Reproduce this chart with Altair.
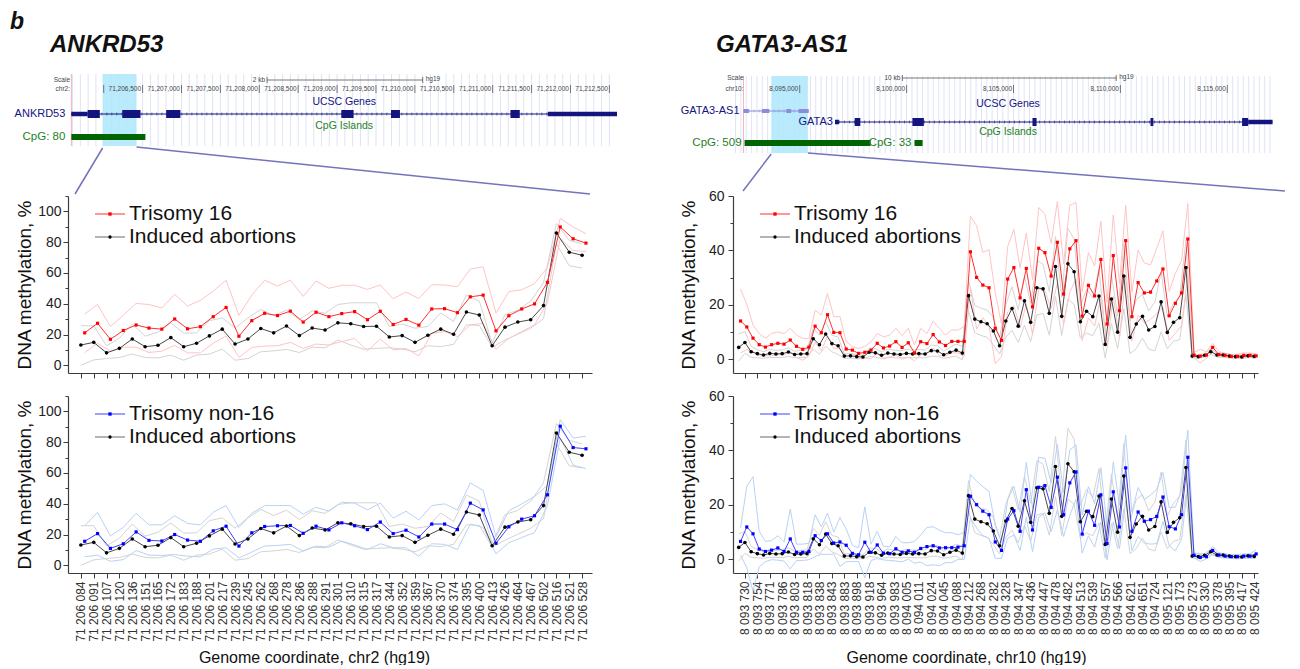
import json
import math
import altair as alt
import pandas as pd

# ---------------- ANKRD53 (chr2) CpG sites ----------------
ank_labels = ["71 206 084", "71 206 091", "71 206 107", "71 206 120", "71 206 136",
              "71 206 151", "71 206 165", "71 206 172", "71 206 183", "71 206 188",
              "71 206 201", "71 206 217", "71 206 239", "71 206 245", "71 206 262",
              "71 206 268", "71 206 278", "71 206 286", "71 206 288", "71 206 291",
              "71 206 301", "71 206 310", "71 206 315", "71 206 317", "71 206 344",
              "71 206 352", "71 206 359", "71 206 367", "71 206 370", "71 206 374",
              "71 206 395", "71 206 400", "71 206 413", "71 206 426", "71 206 464",
              "71 206 467", "71 206 502", "71 206 516", "71 206 521", "71 206 528"]
ank_ia_mean = [13.2, 14.9, 8.1, 11.0, 17.1, 12.1, 13.0, 18.0, 12.1, 14.3,
               19.1, 23.5, 13.8, 17.1, 23.9, 21.1, 25.5, 19.3, 24.2, 22.9,
               27.6, 27.0, 25.2, 25.4, 18.4, 19.3, 14.9, 19.5, 23.5, 20.2,
               34.6, 32.7, 12.7, 24.8, 28.1, 29.6, 38.8, 86.0, 73.5, 71.5]
ank_ia_up = [25.7, 25.7, 12.7, 17.6, 26.8, 18.9, 21.5, 27.5, 20.9, 21.1,
             29.0, 30.8, 24.2, 30.8, 36.3, 32.3, 35.8, 29.7, 35.4, 33.8,
             39.5, 40.6, 40.6, 40.6, 25.2, 26.8, 24.1, 25.2, 34.0, 28.5,
             45.6, 41.7, 14.3, 32.9, 35.7, 41.7, 53.7, 92.1, 81.1, 78.9]
ank_ia_lo = [0.0, 3.5, 4.4, 5.1, 7.3, 5.1, 4.8, 6.6, 3.3, 6.6,
             7.3, 10.5, 3.3, 4.4, 8.8, 9.4, 10.3, 8.3, 11.8, 11.4,
             16.4, 13.2, 10.5, 11.0, 11.4, 10.5, 8.8, 12.7, 12.1, 13.6,
             26.3, 25.9, 11.8, 16.4, 20.2, 24.1, 30.3, 78.9, 64.7, 63.2]
ank_t16_mean = [21.1, 27.3, 16.9, 22.6, 26.2, 24.2, 23.5, 30.1, 23.7, 25.1,
                31.6, 37.6, 18.9, 29.0, 33.8, 32.3, 35.2, 28.1, 34.5, 31.6,
                33.6, 34.9, 29.6, 35.1, 26.5, 29.8, 26.1, 36.6, 36.8, 34.2,
                44.5, 45.6, 22.4, 32.2, 36.6, 39.9, 53.9, 89.9, 82.2, 79.4]
ank_t16_up = [33.3, 39.5, 25.2, 32.5, 40.2, 39.5, 37.3, 46.1, 38.5, 42.2,
              48.2, 55.3, 32.5, 45.6, 55.3, 51.5, 55.3, 44.8, 54.8, 50.0,
              52.0, 52.0, 49.3, 52.2, 43.2, 47.6, 43.4, 52.4, 52.2, 51.1,
              62.5, 64.0, 34.0, 47.8, 49.1, 53.1, 63.6, 95.4, 89.9, 85.5]
ank_t16_lo = [8.3, 14.3, 9.2, 11.8, 11.8, 8.3, 9.2, 13.0, 8.1, 8.1,
              14.3, 19.1, 5.1, 11.6, 12.5, 12.7, 14.9, 11.0, 13.8, 13.2,
              15.4, 17.5, 9.4, 17.1, 9.9, 11.0, 6.1, 20.8, 21.9, 18.6,
              26.3, 27.2, 10.5, 17.5, 21.9, 26.3, 40.6, 82.2, 74.6, 73.9]
ank_tn16_mean = [15.6, 20.6, 11.0, 14.0, 21.7, 16.2, 15.8, 20.0, 16.4, 15.6,
                 22.4, 25.4, 12.5, 21.1, 25.2, 25.7, 25.9, 20.8, 25.4, 23.0,
                 27.6, 25.7, 23.2, 28.1, 20.6, 22.8, 18.4, 26.8, 26.8, 23.2,
                 40.4, 36.0, 14.3, 25.0, 30.0, 32.2, 45.8, 90.4, 76.5, 75.7]
ank_tn16_up = [25.7, 34.4, 19.1, 24.6, 33.8, 26.3, 26.3, 32.2, 27.2, 26.3,
               34.4, 38.8, 24.6, 33.8, 38.8, 38.8, 38.8, 33.3, 37.7, 35.1,
               41.0, 40.4, 36.0, 40.4, 30.7, 35.1, 29.4, 38.8, 39.9, 36.0,
               53.5, 48.7, 18.5, 35.5, 39.9, 44.7, 52.0, 94.7, 82.7, 83.8]
ank_tn16_lo = [5.5, 6.6, 2.6, 3.7, 9.6, 6.6, 6.4, 7.0, 5.9, 5.5,
               10.5, 11.4, 4.8, 8.6, 12.5, 12.9, 13.6, 9.2, 12.5, 11.8,
               15.8, 13.2, 10.3, 14.0, 11.4, 11.4, 5.9, 14.0, 13.6, 10.3,
               26.8, 24.6, 7.5, 14.7, 18.0, 21.3, 38.8, 82.7, 65.1, 62.9]

# ---------------- GATA3-AS1 (chr10) CpG sites (labels on every other site) ----------------
gata_labels = ["8 093 730", "8 093 754", "8 093 771", "8 093 786", "8 093 803", "8 093 818",
               "8 093 838", "8 093 843", "8 093 883", "8 093 898", "8 093 918", "8 093 964",
               "8 093 983", "8 094 005", "8 094 011", "8 094 024", "8 094 045", "8 094 088",
               "8 094 212", "8 094 268", "8 094 282", "8 094 328", "8 094 347", "8 094 436",
               "8 094 447", "8 094 478", "8 094 482", "8 094 513", "8 094 539", "8 094 557",
               "8 094 566", "8 094 621", "8 094 651", "8 094 724", "8 095 121", "8 095 173",
               "8 095 273", "8 095 330", "8 095 378", "8 095 395", "8 095 417", "8 095 424"]
gata_ia_mean = [4.4, 6.2, 2.8, 2.1, 1.6, 2.2, 2.0, 2.1, 2.7, 1.8,
                2.0, 2.1, 7.6, 5.4, 9.3, 5.8, 5.0, 1.2, 1.3, 1.0,
                0.9, 2.6, 2.4, 1.5, 2.3, 2.0, 1.8, 2.2, 2.0, 2.1,
                2.0, 3.2, 3.1, 1.7, 2.6, 3.4, 2.3, 23.4, 14.8, 13.8,
                13.1, 10.4, 5.0, 14.1, 18.7, 12.2, 21.5, 13.6, 26.3, 25.9,
                16.9, 34.1, 15.8, 35.1, 32.2, 13.8, 17.7, 15.7, 23.3, 5.5,
                22.2, 10.0, 30.6, 8.1, 13.0, 15.8, 10.8, 12.1, 21.1, 9.9,
                13.6, 15.3, 33.7, 1.2, 1.0, 1.5, 2.8, 1.6, 1.6, 1.2,
                1.0, 0.9, 1.3, 1.1]
gata_ia_sd = [5.0, 4.0, 2.0, 1.5, 1.2, 1.5, 1.3, 1.4, 1.6, 1.2,
              1.3, 1.4, 3.8, 3.5, 4.5, 3.0, 3.2, 0.8, 0.9, 0.8,
              0.7, 1.5, 1.6, 1.2, 1.5, 1.4, 1.3, 1.5, 1.4, 1.5,
              1.4, 2.0, 2.0, 1.3, 1.8, 2.2, 2.5, 5.5, 5.0, 5.0,
              5.0, 5.0, 3.0, 6.0, 8.0, 6.0, 9.0, 7.0, 10.0, 9.0,
              8.0, 11.0, 7.0, 13.0, 12.0, 6.0, 8.0, 7.0, 10.0, 5.0,
              9.0, 6.0, 12.0, 6.0, 9.0, 8.0, 7.0, 9.0, 11.0, 6.0,
              7.0, 8.0, 10.0, 0.7, 0.6, 0.7, 1.0, 0.7, 0.6, 0.6,
              0.6, 0.6, 0.6, 0.6]
gata_t16_mean = [14.1, 11.9, 7.8, 5.4, 4.5, 5.4, 5.9, 5.6, 7.1, 4.8,
                 3.7, 4.5, 12.2, 9.8, 16.4, 9.9, 9.8, 3.8, 3.4, 2.2,
                 2.6, 3.4, 5.9, 4.2, 4.9, 6.5, 4.4, 6.1, 2.4, 6.5,
                 5.8, 9.1, 6.4, 5.1, 6.6, 6.6, 6.6, 39.5, 30.1, 27.3,
                 26.3, 11.4, 7.0, 29.5, 33.7, 22.6, 33.4, 19.3, 40.8, 39.2,
                 30.6, 43.0, 24.0, 40.6, 43.6, 15.9, 27.2, 23.3, 36.7, 13.0,
                 38.1, 17.9, 43.6, 15.7, 28.2, 24.4, 24.7, 28.8, 33.2, 16.0,
                 20.6, 24.4, 44.2, 1.6, 1.2, 1.6, 4.4, 1.8, 1.5, 1.1,
                 1.1, 1.5, 1.5, 1.3]
gata_t16_sd = [11.7, 8.3, 4.8, 4.1, 3.2, 4.1, 4.2, 3.9, 4.3, 4.1,
               4.0, 3.2, 5.9, 6.5, 7.8, 5.8, 5.9, 2.7, 1.3, 1.8,
               2.1, 3.1, 3.6, 4.1, 4.0, 4.9, 4.3, 5.3, 2.9, 4.9,
               3.7, 4.9, 5.0, 3.8, 4.2, 4.2, 5.5, 13.1, 19.0, 12.0,
               14.0, 13.0, 6.0, 12.0, 14.0, 11.0, 13.0, 10.0, 15.0, 14.0,
               12.0, 15.0, 11.0, 16.0, 14.0, 9.0, 12.0, 11.0, 14.0, 8.0,
               15.0, 10.0, 13.0, 9.0, 12.0, 11.0, 10.0, 12.0, 14.0, 9.0,
               11.0, 12.0, 13.0, 1.0, 2.5, 1.2, 1.5, 1.0, 0.8, 0.7,
               0.8, 0.9, 0.8, 0.8]
gata_tn16_mean = [6.6, 11.9, 9.4, 3.8, 2.9, 3.4, 4.2, 2.9, 7.5, 2.6,
                  2.6, 2.9, 8.7, 6.9, 9.4, 6.0, 6.4, 5.2, 2.2, 1.7,
                  6.3, 2.6, 5.3, 2.3, 2.1, 3.9, 2.6, 3.1, 2.6, 4.0,
                  4.7, 5.0, 4.2, 4.3, 4.3, 4.5, 5.0, 23.2, 20.1, 17.7,
                  16.4, 6.4, 3.3, 14.8, 17.9, 10.3, 25.6, 10.8, 26.5, 27.1,
                  19.1, 30.2, 16.4, 28.1, 32.1, 9.3, 17.7, 12.5, 23.7, 5.8,
                  24.8, 11.9, 33.6, 10.3, 17.4, 14.0, 14.6, 15.8, 22.9, 12.0,
                  11.2, 16.4, 37.5, 1.5, 0.7, 1.0, 3.3, 1.6, 1.2, 1.0,
                  1.0, 1.2, 1.2, 2.0]
gata_tn16_sd = [5.0, 15.0, 21.0, 6.5, 3.7, 3.5, 4.5, 3.5, 11.0, 3.0,
                3.0, 3.0, 7.7, 5.0, 7.6, 4.0, 9.0, 6.0, 3.0, 2.5,
                13.0, 3.0, 5.0, 2.5, 2.5, 4.5, 3.5, 3.0, 4.0, 5.0,
                7.0, 7.0, 6.5, 5.5, 5.5, 4.5, 5.0, 8.0, 8.6, 9.0,
                8.6, 6.0, 3.0, 7.0, 9.0, 7.0, 10.0, 8.0, 11.0, 10.0,
                9.0, 12.0, 8.0, 12.0, 10.0, 7.0, 9.0, 8.0, 10.0, 6.0,
                11.0, 8.0, 12.0, 7.0, 9.0, 8.0, 9.0, 10.0, 9.0, 7.0,
                8.0, 9.0, 10.0, 0.8, 1.5, 0.8, 1.5, 0.8, 0.7, 0.7,
                0.8, 0.8, 0.8, 1.5]

# ---------------- UCSC browser tracks ----------------
ank_view = [71205541, 71212598]
ank_track = [71205584, 71212598]
ank_highlight = [71205986, 71206422]
ank_pos_ticks = [71206000, 71206500, 71207000, 71207500, 71208000, 71208500, 71209000,
                 71209500, 71210000, 71210500, 71211000, 71211500, 71212000, 71212500]
ank_pos_labeled = ank_pos_ticks[1:]
ank_scalebar = [71208100, 71210100]
ank_cds_start = [71205793, 71206238, 71206803, 71209054, 71209693, 71211228]
ank_cds_end = [71205950, 71206473, 71206986, 71209212, 71209808, 71211348]
ank_utr_start = [71205584, 71211709]
ank_utr_end = [71205793, 71212598]
ank_cpg_start = [71205584]
ank_cpg_end = [71206536]
ank_cpg_names = ["CpG: 80"]
ank_zoom_to = [71205631, 71212251]

gata_view = [8091880, 8117138]
gata_track = [8092374, 8117117]
gata_highlight = [8093668, 8095383]
gata_pos_ticks = [8095000, 8100000, 8105000, 8110000, 8115000]
gata_scalebar = [8099804, 8109804]
gas1_span = [8092374, 8095421]
gas1_exon_start = [8092374, 8093229, 8094374, 8094944]
gas1_exon_end = [8092621, 8093575, 8094603, 8095421]
gata3_span = [8096836, 8117117]
gata3_cds_start = [8097570, 8100271, 8105888, 8111407, 8115692]
gata3_cds_end = [8097836, 8100808, 8106079, 8111542, 8115977]
gata3_utr_start = [8096650, 8115977]
gata3_utr_end = [8096836, 8117117]
gata_cpg_start = [8092421, 8100369]
gata_cpg_end = [8098313, 8100748]
gata_cpg_names = ["CpG: 509", "CpG: 33"]
gata_zoom_to = [8092348, 8117698]

# ---------------- styles ----------------
AX = "#3c3c3c"
GRID = "#dfe4f6"
HL = "#aee8fb"
PINK = "#f3b3bb"
CONN = "#7373bb"
NAVY = "#14147f"
LPURP = "#8c8cd8"
GREEN = "#006400"
GREEN_T = "#1f7f1f"
FONT = "Liberation Sans"

one = pd.DataFrame({"k": [0]})


def vtext(s, x, y, size, color, align="left", baseline="middle", weight="normal", style="normal"):
    return alt.Chart(one).mark_text(text=s, align=align, baseline=baseline, fontSize=size,
                                    color=color, fontWeight=weight, fontStyle=style).encode(
        x=alt.value(x), y=alt.value(y))


def browser(view, width, height, grid_step, track, hl, top, bot, scale_x, chrom,
            bar, bar_txt, bar_y, tick_y, pos_ticks, pos_labeled, genes, cpg, cpg_y, cpg_dx,
            zoom_to, zoom_y0, zoom_y1, title, title_x, extra):
    xs = alt.Scale(domain=view, nice=False, zero=False)
    g0 = int(math.ceil(view[0] / grid_step) * grid_step)
    gv = list(range(g0, view[1], grid_step))

    def X(f):
        return alt.X(f, scale=xs, axis=None, title=None)

    L = []
    L.append(alt.Chart(pd.DataFrame({"p": gv})).mark_rule(color=GRID, strokeWidth=1).encode(
        x=X("p:Q"), y=alt.value(top), y2=alt.value(bot)))
    L.append(alt.Chart(pd.DataFrame({"s": [hl[0]], "e": [hl[1]]})).mark_rect(
        color=HL, opacity=0.85).encode(x=X("s:Q"), x2=alt.X2("e"),
                                        y=alt.value(top), y2=alt.value(bot)))
    L.append(alt.Chart(pd.DataFrame({"p": [track[0]]})).mark_rule(color=PINK, strokeWidth=1).encode(
        x=X("p:Q"), y=alt.value(top), y2=alt.value(bot)))
    L.append(vtext("Scale", scale_x, bar_y, 6.5, "#444", align="right"))
    L.append(vtext(chrom, scale_x, tick_y, 6.5, "#444", align="right"))
    # scale bar
    bdf = pd.DataFrame({"s": [bar[0]], "e": [bar[1]]})
    L.append(alt.Chart(bdf).mark_rule(color="#555", strokeWidth=0.8).encode(
        x=X("s:Q"), x2=alt.X2("e"), y=alt.value(bar_y)))
    L.append(alt.Chart(pd.DataFrame({"p": bar})).mark_rule(color="#555", strokeWidth=0.8).encode(
        x=X("p:Q"), y=alt.value(bar_y - 3), y2=alt.value(bar_y + 3)))
    L.append(alt.Chart(bdf).mark_text(text=bar_txt, align="right", baseline="middle", fontSize=6.5,
                                      dx=-2, color="#444").encode(x=X("s:Q"), y=alt.value(bar_y)))
    L.append(alt.Chart(bdf).mark_text(text="hg19", align="left", baseline="middle", fontSize=6.5,
                                      dx=3, dy=-1, color="#444").encode(x=X("e:Q"), y=alt.value(bar_y)))
    # base position ticks
    L.append(alt.Chart(pd.DataFrame({"p": pos_ticks})).mark_rule(color="#555", strokeWidth=0.8).encode(
        x=X("p:Q"), y=alt.value(tick_y - 4), y2=alt.value(tick_y + 4)))
    L.append(alt.Chart(pd.DataFrame({"p": pos_labeled})).mark_text(
        align="right", baseline="middle", fontSize=6.5, dx=-1.5, color="#444").encode(
        x=X("p:Q"), y=alt.value(tick_y), text=alt.Text("p:Q", format=",d")))
    mid = (track[0] + track[1]) / 2
    # gene tracks
    for gdef in genes:
        if gdef.get("title_y") is not None:
            L.append(alt.Chart(pd.DataFrame({"p": [mid]})).mark_text(
                text="UCSC Genes", align="center", baseline="middle", fontSize=10.5, color=NAVY).encode(
                x=X("p:Q"), y=alt.value(gdef["title_y"])))
        y = gdef["y"]
        sdf = pd.DataFrame({"s": [gdef["span"][0]], "e": [gdef["span"][1]]})
        L.append(alt.Chart(sdf).mark_rule(color=gdef["color"], strokeWidth=1).encode(
            x=X("s:Q"), x2=alt.X2("e"), y=alt.value(y)))
        L.append(alt.Chart(sdf).mark_rule(color=gdef["color"], strokeWidth=3, strokeDash=[1, 4],
                                          opacity=0.55).encode(
            x=X("s:Q"), x2=alt.X2("e"), y=alt.value(y)))
        if gdef.get("utr"):
            udf = pd.DataFrame({"s": gdef["utr"][0], "e": gdef["utr"][1]})
            L.append(alt.Chart(udf).mark_rect(color=gdef["color"]).encode(
                x=X("s:Q"), x2=alt.X2("e"), y=alt.value(y - gdef["utr_h"] / 2),
                y2=alt.value(y + gdef["utr_h"] / 2)))
        cdf = pd.DataFrame({"s": gdef["cds"][0], "e": gdef["cds"][1]})
        L.append(alt.Chart(cdf).mark_rect(color=gdef["color"]).encode(
            x=X("s:Q"), x2=alt.X2("e"), y=alt.value(y - gdef["cds_h"] / 2),
            y2=alt.value(y + gdef["cds_h"] / 2)))
        L.append(alt.Chart(pd.DataFrame({"p": [gdef["label_at"]]})).mark_text(
            text=gdef["name"], align="right", baseline="middle", fontSize=11, dx=gdef["dx"],
            color=NAVY).encode(x=X("p:Q"), y=alt.value(y)))
    # CpG islands
    L.append(alt.Chart(pd.DataFrame({"p": [mid]})).mark_text(
        text="CpG Islands", align="center", baseline="middle", fontSize=10.5, color=GREEN_T).encode(
        x=X("p:Q"), y=alt.value(cpg_y - 11)))
    cpdf = pd.DataFrame({"s": cpg[0], "e": cpg[1], "n": cpg[2]})
    L.append(alt.Chart(cpdf).mark_rect(color=GREEN).encode(
        x=X("s:Q"), x2=alt.X2("e"), y=alt.value(cpg_y - 3), y2=alt.value(cpg_y + 3)))
    L.append(alt.Chart(cpdf).mark_text(align="right", baseline="middle", fontSize=11.5, dx=cpg_dx,
                                       color=GREEN_T).encode(
        x=X("s:Q"), y=alt.value(cpg_y), text="n:N"))
    # zoom connectors
    for a, b, y0 in [(hl[0], zoom_to[0], zoom_y0), (hl[1], zoom_to[1], zoom_y0 - 1)]:
        L.append(alt.Chart(pd.DataFrame({"a": [a], "b": [b]})).mark_rule(
            color=CONN, strokeWidth=1.5).encode(x=X("a:Q"), x2=alt.X2("b"),
                                                 y=alt.value(y0), y2=alt.value(zoom_y1)))
    # titles
    L.append(vtext(title, title_x, -21, 24, "#111", baseline="alphabetic", weight="bold", style="italic"))
    for t in extra:
        L.append(t)
    return alt.layer(*L).properties(width=width, height=height)


def panel(n, tick_vals, label_expr, xdom, ydom, yvals, w, h,
          ia_mean, ia_up, ia_lo, g_mean, g_up, g_lo,
          g_col, g_line, g_band, g_name, show_labels, xtitle, xtitle_x,
          ytitle_pad, ylabel_pad, shift):
    idx = list(range(n))
    gx = [i + shift for i in idx]
    xs = alt.Scale(domain=xdom, nice=False, zero=False)
    ys = alt.Scale(domain=ydom, nice=False, zero=False)
    xa = dict(values=tick_vals, tickSize=5, tickColor=AX, tickWidth=1, domainColor=AX,
              domainWidth=1.2, grid=False, labelFlush=False, labelOverlap=False)
    if show_labels:
        xa.update(labels=True, labelExpr=label_expr, labelAngle=270, labelAlign="right",
                  labelBaseline="middle", labelFontSize=12, labelColor="#333", labelPadding=3,
                  titleFontSize=16, titleFontWeight="normal", titleColor="#111",
                  titleY=76, titleX=xtitle_x, titleAlign="center", titleBaseline="top")
    else:
        xa.update(labels=False)
    xaxis = alt.Axis(**xa)
    yaxis = alt.Axis(values=yvals, labelExpr="datum.value % 20 === 0 ? datum.label : ''",
                     tickSize={"condition": {"test": "datum.value % 20 === 0", "value": 5}, "value": 3},
                     tickColor=AX, tickWidth=1, domainColor=AX, domainWidth=1.2, grid=False,
                     labelFontSize=14, labelColor="#222", labelPadding=ylabel_pad, labelFlush=False,
                     titleFontSize=19, titleFontWeight="normal", titleColor="#111",
                     titlePadding=ytitle_pad)

    def X():
        return alt.X("x:Q", scale=xs, axis=xaxis, title=xtitle if show_labels else None)

    def Y():
        return alt.Y("v:Q", scale=ys, axis=yaxis, title="DNA methylation, %")

    def line(xv, vals, color, width=1):
        return alt.Chart(pd.DataFrame({"x": xv, "v": vals})).mark_line(
            color=color, strokeWidth=width).encode(x=X(), y=Y())

    layers = [line(idx, ia_up, "#d4d4d4"), line(idx, ia_lo, "#d4d4d4"),
              line(gx, g_up, g_band), line(gx, g_lo, g_band),
              line(idx, ia_mean, "#4a4a4a"), line(gx, g_mean, g_line)]
    layers.append(alt.Chart(pd.DataFrame({"x": idx, "v": ia_mean})).mark_circle(
        size=13, color="#000000", opacity=1).encode(x=X(), y=Y()))
    layers.append(alt.Chart(pd.DataFrame({"x": gx, "v": g_mean})).mark_square(
        size=10, color=g_col, opacity=1).encode(x=X(), y=Y()))

    for name, lc, mc, shape, yy in [(g_name, g_line, g_col, "square", 18),
                                    ("Induced abortions", "#6a6a6a", "#000000", "circle", 41)]:
        layers.append(alt.Chart(one).mark_rule(color=lc, strokeWidth=1).encode(
            x=alt.value(27), x2=alt.value(57), y=alt.value(yy)))
        layers.append(alt.Chart(one).mark_point(shape=shape, filled=True, size=11, color=mc,
                                                opacity=1).encode(x=alt.value(42), y=alt.value(yy)))
        layers.append(alt.Chart(one).mark_text(text=name, align="left", baseline="middle", fontSize=21,
                                               color="#111").encode(x=alt.value(61), y=alt.value(yy)))
    return alt.layer(*layers).properties(width=w, height=h)


# ---------------- build panels ----------------
ank_expr = "%s[datum.value]" % json.dumps(ank_labels)
gata_expr = "%s[(datum.value - 1) / 2]" % json.dumps(gata_labels)
ank_ticks = list(range(len(ank_labels)))
gata_n = len(gata_ia_mean)
gata_ticks = list(range(1, gata_n, 2))


def plus(a, b):
    return [x + y for x, y in zip(a, b)]


def minus(a, b):
    return [x - y for x, y in zip(a, b)]


PH = 177
BLUE_BAND = "#b8d2f6"
RED_BAND = "#ffc4c4"
ank_top = panel(40, ank_ticks, ank_expr, [-1.0, 39.77], [-5, 110], list(range(0, 111, 10)), 524, PH,
                ank_ia_mean, ank_ia_up, ank_ia_lo, ank_t16_mean, ank_t16_up, ank_t16_lo,
                "#ff0000", "#ff3030", RED_BAND, "Trisomy 16", False, None, 0, 3, 2, 0.3)
ank_bot = panel(40, ank_ticks, ank_expr, [-1.0, 39.77], [-5, 110], list(range(0, 111, 10)), 524, PH,
                ank_ia_mean, ank_ia_up, ank_ia_lo, ank_tn16_mean, ank_tn16_up, ank_tn16_lo,
                "#0000ff", "#4040ff", BLUE_BAND, "Trisomy non-16", True,
                "Genome coordinate, chr2 (hg19)", 246, 3, 2, 0.3)
gata_top = panel(gata_n, gata_ticks, gata_expr, [-0.92, 83.6], [-5, 60], list(range(0, 61, 10)), 525, PH,
                 gata_ia_mean, plus(gata_ia_mean, gata_ia_sd), minus(gata_ia_mean, gata_ia_sd),
                 gata_t16_mean, plus(gata_t16_mean, gata_t16_sd), minus(gata_t16_mean, gata_t16_sd),
                 "#ff0000", "#ff3030", RED_BAND, "Trisomy 16", False, None, 0, 10, 4, 0.3)
gata_bot = panel(gata_n, gata_ticks, gata_expr, [-0.92, 83.6], [-5, 60], list(range(0, 61, 10)), 525, PH,
                 gata_ia_mean, plus(gata_ia_mean, gata_ia_sd), minus(gata_ia_mean, gata_ia_sd),
                 gata_tn16_mean, plus(gata_tn16_mean, gata_tn16_sd), minus(gata_tn16_mean, gata_tn16_sd),
                 "#0000ff", "#4040ff", BLUE_BAND, "Trisomy non-16", True,
                 "Genome coordinate, chr10 (hg19)", 233, 10, 4, 0.3)

BH = 100
ank_genes = [dict(name="ANKRD53", y=41, span=ank_track, color=NAVY, cds=(ank_cds_start, ank_cds_end),
                  cds_h=8, utr=(ank_utr_start, ank_utr_end), utr_h=4.5, label_at=ank_track[0], dx=-6,
                  title_y=29)]
ank_browser = browser(ank_view, 549, BH, 100, ank_track, ank_highlight, 1, 73, 2, "chr2:",
                      ank_scalebar, "2 kb", 7, 16, ank_pos_ticks, ank_pos_labeled, ank_genes,
                      (ank_cpg_start, ank_cpg_end, ank_cpg_names), 64, -6,
                      ank_zoom_to, 75, 121, "ANKRD53", -18,
                      [vtext("b", -58, -44, 23, "#111", baseline="alphabetic", weight="bold", style="italic")])

gata_genes = [dict(name="GATA3-AS1", y=38, span=gas1_span, color=LPURP,
                   cds=(gas1_exon_start, gas1_exon_end), cds_h=4, utr=None, utr_h=0,
                   label_at=gas1_span[0], dx=-4, title_y=31),
              dict(name="GATA3", y=49, span=gata3_span, color=NAVY,
                   cds=(gata3_cds_start, gata3_cds_end), cds_h=8,
                   utr=(gata3_utr_start, gata3_utr_end), utr_h=4.5,
                   label_at=gata3_utr_start[0], dx=-2, title_y=None)]
gata_browser = browser(gata_view, 540, BH, 250, gata_track, gata_highlight, 3, 80, 10.5, "chr10:",
                       gata_scalebar, "10 kb", 5, 16, gata_pos_ticks, gata_pos_ticks, gata_genes,
                       (gata_cpg_start, gata_cpg_end, gata_cpg_names), 70, -3,
                       gata_zoom_to, 81, 118, "GATA3-AS1", -17, [])

chart = alt.concat(ank_browser, gata_browser, ank_top, gata_top, ank_bot, gata_bot,
                   columns=2, spacing={"row": 23, "column": 116}, bounds="flush").properties(
    padding={"left": 2, "top": 3, "right": 4, "bottom": 0}
).configure(font=FONT).configure_view(stroke=None)

chart.save("out.html", embed_options={"renderer": "svg", "actions": False})
